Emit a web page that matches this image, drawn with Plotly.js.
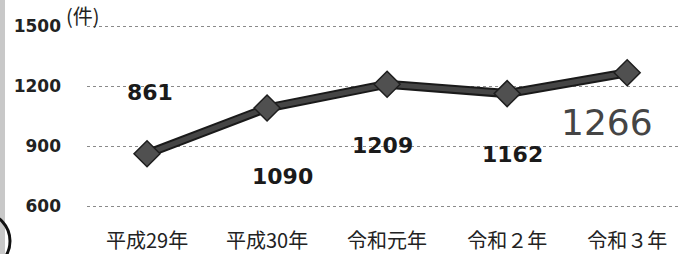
<!DOCTYPE html>
<html>
<head>
<meta charset="utf-8">
<script src="https://cdn.plot.ly/plotly-3.0.1.min.js"></script>
<style>html,body{margin:0;padding:0;background:#fff;}#chart{width:680px;height:254px;}</style>
</head>
<body>
<div id="chart"></div>
<script>
const categories = ["平成29年", "平成30年", "令和元年", "令和２年", "令和３年"];
const counts = [861, 1090, 1209, 1162, 1266];
const labelShifts = [[3, 61], [15, -68], [-5, -61], [5, -61], [-20, -50]];
const tickVals = [600, 900, 1200, 1500];
const tickText = ["600", "900", "1200", "1500"];
const unitLabel = "(件)";

const W = 680, H = 254, L = 87, T = 23, B = 45;
const plotW = W - L, plotH = H - T - B;
const px = p => (p - L) / plotW;
const py = q => (H - B - q) / plotH;

const traces = [
  {x: categories, y: counts, type: "scatter", mode: "lines",
   line: {color: "#1a1a1a", width: 9}, hoverinfo: "skip"},
  {x: categories, y: counts, type: "scatter", mode: "lines+markers",
   line: {color: "#454545", width: 5},
   marker: {symbol: "diamond", size: 20, color: "#505050", line: {color: "#1e1e1e", width: 1.5}}}
];

const annotations = counts.map((v, i) => {
  const last = i === counts.length - 1;
  return {
    x: categories[i], y: v, xref: "x", yref: "y", text: String(v), showarrow: false,
    xshift: labelShifts[i][0], yshift: labelShifts[i][1],
    font: last ? {family: "DejaVu Sans", size: 36, color: "#454545"}
               : {family: "DejaVu Sans", size: 22, color: "#1a1a1a", weight: "bold"}
  };
});
annotations.push({
  xref: "paper", yref: "paper", x: px(64), y: py(15), xanchor: "left", yanchor: "middle",
  text: unitLabel, showarrow: false,
  font: {family: "Noto Sans CJK JP", size: 20, color: "#222"}
});

const layout = {
  width: W, height: H,
  margin: {l: L, r: 0, t: T, b: B, pad: 0},
  paper_bgcolor: "#ffffff", plot_bgcolor: "#ffffff",
  showlegend: false,
  xaxis: {
    type: "category", range: [-0.5, 4.44], showgrid: false, zeroline: false, showline: false,
    ticks: "", ticklabelstandoff: 18,
    tickfont: {family: "Noto Sans CJK JP", size: 20, color: "#222"}
  },
  yaxis: {
    range: [585, 1515], tickvals: tickVals, ticktext: tickText,
    showgrid: true, gridcolor: "#8a8a8a", gridwidth: 1, griddash: "dot",
    zeroline: false, showline: false, ticks: "", ticklabelstandoff: 25,
    tickfont: {family: "DejaVu Sans", size: 17, color: "#222", weight: "bold"}
  },
  annotations: annotations,
  shapes: [
    {type: "rect", xref: "paper", yref: "paper", x0: px(0), x1: px(5), y0: py(254), y1: py(0),
     fillcolor: "#c8c8c8", line: {width: 0}, layer: "below"},
    {type: "circle", xref: "paper", yref: "paper", x0: px(-40), x1: px(10), y0: py(268), y1: py(214),
     line: {color: "#111", width: 3}}
  ]
};

Plotly.newPlot("chart", traces, layout, {displayModeBar: false, staticPlot: true});
</script>
</body>
</html>
